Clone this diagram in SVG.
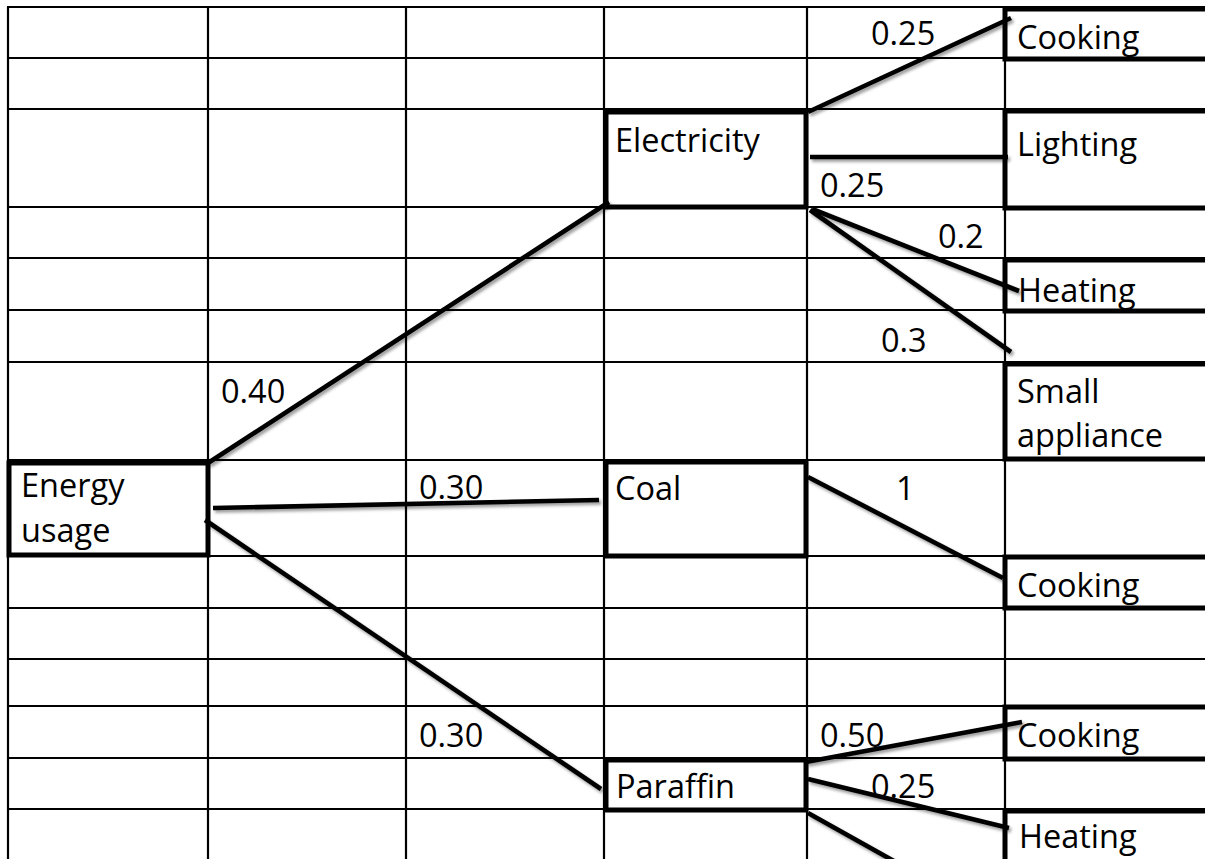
<svg xmlns="http://www.w3.org/2000/svg" width="1205" height="859" viewBox="0 0 1205 859">
<defs>
<style>
.grid line{stroke:#000;stroke-width:2.2}
.box{fill:none;stroke:#000;stroke-width:5}
text{font-family:"Open Sans","Liberation Sans",sans-serif;font-size:32.5px;fill:#000}
.conn line{stroke:#000;stroke-width:4.6;stroke-linecap:butt}
</style>
<filter id="sh" x="-10%" y="-10%" width="120%" height="120%">
<feDropShadow dx="2" dy="2.5" stdDeviation="1.8" flood-color="#000" flood-opacity="0.4"/>
</filter>
</defs>
<rect width="1205" height="859" fill="#fff"/>
<g id="grid" class="grid">
<line x1="8" y1="7" x2="8" y2="859"/>
<line x1="208" y1="7" x2="208" y2="859"/>
<line x1="406" y1="7" x2="406" y2="859"/>
<line x1="604" y1="7" x2="604" y2="859"/>
<line x1="807" y1="7" x2="807" y2="859"/>
<line x1="1005" y1="7" x2="1005" y2="859"/>
<line x1="7" y1="7" x2="1205" y2="7"/>
<line x1="7" y1="58" x2="1205" y2="58"/>
<line x1="7" y1="109" x2="1205" y2="109"/>
<line x1="7" y1="207" x2="1205" y2="207"/>
<line x1="7" y1="258" x2="1205" y2="258"/>
<line x1="7" y1="310" x2="1205" y2="310"/>
<line x1="7" y1="362" x2="1205" y2="362"/>
<line x1="7" y1="460" x2="1205" y2="460"/>
<line x1="7" y1="556" x2="1205" y2="556"/>
<line x1="7" y1="608" x2="1205" y2="608"/>
<line x1="7" y1="659" x2="1205" y2="659"/>
<line x1="7" y1="706" x2="1205" y2="706"/>
<line x1="7" y1="758" x2="1205" y2="758"/>
<line x1="7" y1="809" x2="1205" y2="809"/>
</g>
<g id="connectors" class="conn" filter="url(#sh)">
<line x1="208" y1="463" x2="609" y2="202"/>
<line x1="213" y1="508" x2="599" y2="500"/>
<line x1="205" y1="520" x2="601" y2="789"/>
<line x1="808" y1="112" x2="1011" y2="18"/>
<line x1="810" y1="157" x2="1008" y2="157"/>
<line x1="812" y1="209" x2="1019" y2="291"/>
<line x1="810" y1="210" x2="1011" y2="352"/>
<line x1="808" y1="477" x2="1003" y2="578"/>
<line x1="806" y1="762" x2="1022" y2="722"/>
<line x1="808" y1="779" x2="1009" y2="828"/>
<line x1="808" y1="813" x2="901" y2="865"/>
</g>
<g id="edge-labels">
<text x="221" y="403">0.40</text>
<text x="419" y="499">0.30</text>
<text x="419" y="747">0.30</text>
<text x="871" y="45">0.25</text>
<text x="820" y="197">0.25</text>
<text x="938" y="248">0.2</text>
<text x="881" y="352">0.3</text>
<text x="896" y="500">1</text>
<text x="820" y="747">0.50</text>
<text x="871" y="798">0.25</text>
</g>
<g id="energy-usage">
<rect class="box" x="9" y="463" width="199" height="92"/>
<text x="21" y="497">Energy</text>
<text x="21" y="542">usage</text>
</g>
<g id="electricity">
<rect class="box" x="606" y="112" width="200" height="95"/>
<text x="615" y="152">Electricity</text>
</g>
<g id="coal">
<rect class="box" x="606" y="462" width="200" height="94"/>
<text x="615" y="500">Coal</text>
</g>
<g id="paraffin">
<rect class="box" x="606" y="760" width="200" height="50"/>
<text x="616" y="798">Paraffin</text>
</g>
<g id="cooking-1">
<rect class="box" x="1005" y="9" width="220" height="50"/>
<text x="1017" y="49">Cooking</text>
</g>
<g id="lighting">
<rect class="box" x="1005" y="111" width="220" height="97"/>
<text x="1017" y="156">Lighting</text>
</g>
<g id="heating-1">
<rect class="box" x="1005" y="260" width="220" height="51"/>
<text x="1018" y="302">Heating</text>
</g>
<g id="small-appliance">
<rect class="box" x="1005" y="364" width="220" height="95"/>
<text x="1017" y="403">Small</text>
<text x="1017" y="447">appliance</text>
</g>
<g id="cooking-2">
<rect class="box" x="1005" y="557" width="220" height="51"/>
<text x="1017" y="597">Cooking</text>
</g>
<g id="cooking-3">
<rect class="box" x="1005" y="707" width="220" height="52"/>
<text x="1017" y="747">Cooking</text>
</g>
<g id="heating-2">
<rect class="box" x="1005" y="811" width="220" height="80"/>
<text x="1019" y="848">Heating</text>
</g>
</svg>
